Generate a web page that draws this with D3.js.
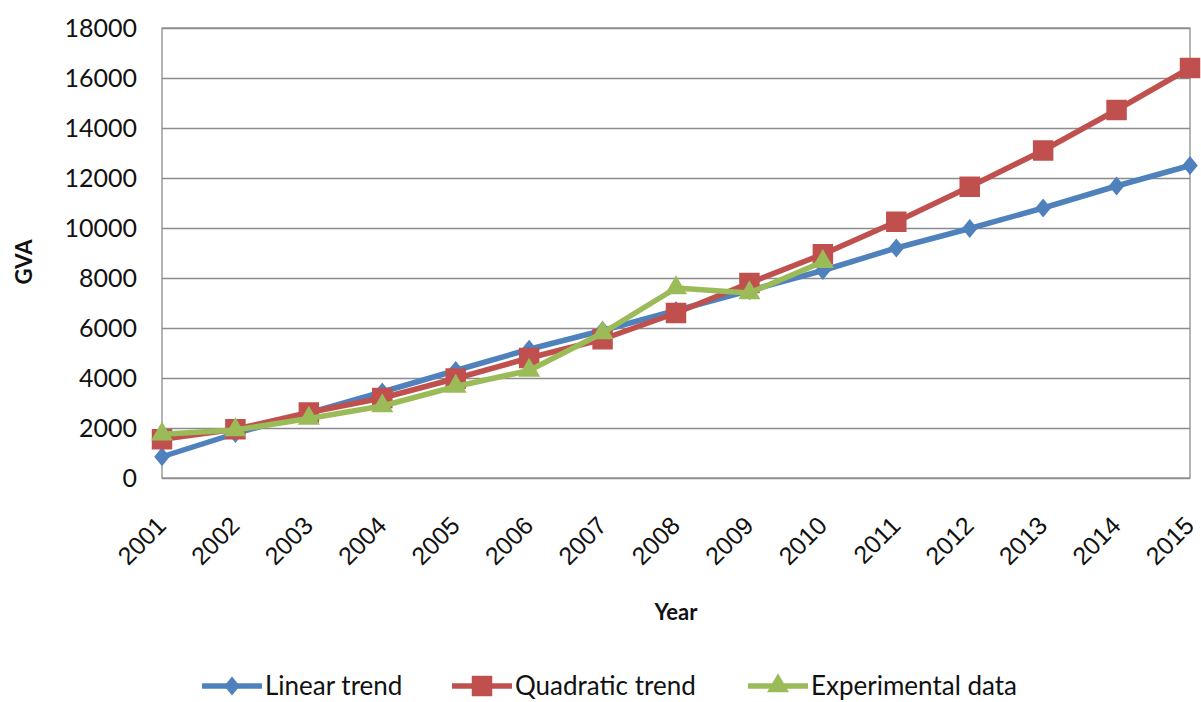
<!DOCTYPE html>
<html>
<head>
<meta charset="utf-8">
<script src="https://cdn.jsdelivr.net/npm/d3@7"></script>
<style>
  body { margin: 0; background: #fff; }
  svg { display: block; font-family: Lato, "Open Sans", sans-serif; }
</style>
</head>
<body>
<svg id="chart"></svg>
<script>
// data
const years = ["2001","2002","2003","2004","2005","2006","2007","2008","2009","2010","2011","2012","2013","2014","2015"];
const linearTrend = [850, 1780, 2600, 3440, 4300, 5150, 5900, 6700, 7500, 8300, 9200, 9980, 10800, 11680, 12500];
const quadraticTrend = [1550, 1950, 2620, 3200, 3980, 4800, 5550, 6600, 7800, 8950, 10250, 11650, 13100, 14720, 16400];
const experimentalData = [1750, 1920, 2380, 2880, 3660, 4300, 5800, 7600, 7400, 8650];
const yTicks = [0, 2000, 4000, 6000, 8000, 10000, 12000, 14000, 16000, 18000];

const width = 1201, height = 702;
const marginLeft = 162, marginRight = 11, marginTop = 28, marginBottom = 224;

// excel-ish diamond, a bit wider than d3's
const diamond = {
  draw(ctx, size) {
    const h = Math.sqrt(size) * 0.55, w = h * 0.82;
    ctx.moveTo(0, -h); ctx.lineTo(w, 0); ctx.lineTo(0, h); ctx.lineTo(-w, 0); ctx.closePath();
  }
};

const series = [
  { name: "Linear trend", values: linearTrend, color: "#4F81BD", symbol: diamond, size: 300 },
  { name: "Quadratic trend", values: quadraticTrend, color: "#C0504D", symbol: d3.symbolSquare, size: 420 },
  { name: "Experimental data", values: experimentalData, color: "#9BBB59", symbol: d3.symbolTriangle, size: 210 }
];

const svg = d3.select("#chart")
  .attr("width", width)
  .attr("height", height)
  .attr("viewBox", [0, 0, width, height]);

const xScale = d3.scalePoint().domain(years).range([marginLeft, width - marginRight]);
const yScale = d3.scaleLinear().domain([0, 18000]).range([height - marginBottom, marginTop]);

//gridlines + y labels
svg.append("g")
  .attr("transform", `translate(${marginLeft},0)`)
  .call(d3.axisLeft(yScale).tickValues(yTicks).tickFormat(d3.format("d")).tickSize(0).tickPadding(25))
  .call(g => g.select(".domain").remove())
  .call(g => g.selectAll(".tick text").attr("font-size", 25).attr("fill", "#111").attr("font-family", "Lato"))
  .call(g => g.selectAll(".tick line").clone()
      .attr("stroke", "#8c8c8c")
      .attr("stroke-width", 1.3)
      .attr("x2", width - marginLeft - marginRight));

// plot border
svg.append("rect")
  .attr("x", marginLeft)
  .attr("y", marginTop)
  .attr("width", width - marginLeft - marginRight)
  .attr("height", height - marginTop - marginBottom)
  .attr("fill", "none")
  .attr("stroke", "#8c8c8c")
  .attr("stroke-width", 1.3);

// x labels
svg.append("g")
  .attr("transform", `translate(0,${height - marginBottom})`)
  .call(d3.axisBottom(xScale).tickSize(0).tickPadding(0))
  .call(g => g.select(".domain").remove())
  .call(g => g.selectAll(".tick text")
      .attr("font-size", 25)
      .attr("fill", "#111")
      .attr("text-anchor", "end")
      .attr("y", 0)
      .attr("dy", "0.35em")
      .attr("transform", "translate(-1,43) rotate(-45)"));

// axis titles
svg.append("text")
  .attr("transform", `translate(32,262) rotate(-90)`)
  .attr("text-anchor", "middle")
  .attr("font-size", 22)
  .attr("font-weight", "bold")
  .attr("fill", "#111")
  .text("GVA");

svg.append("text")
  .attr("x", (marginLeft + width - marginRight) / 2)
  .attr("y", 620)
  .attr("text-anchor", "middle")
  .attr("font-size", 22)
  .attr("font-weight", "bold")
  .attr("fill", "#111")
  .text("Year");

const line = d3.line().x((d, i) => xScale(years[i])).y(d => yScale(d));

series.forEach(s => {
  const g = svg.append("g");
  g.append("path")
    .attr("d", line(s.values))
    .attr("fill", "none")
    .attr("stroke", s.color)
    .attr("stroke-width", 5.5)
    .attr("stroke-linejoin", "round");
  g.selectAll("path.m")
    .data(s.values)
    .join("path")
    .attr("class", "m")
    .attr("transform", (d, i) => `translate(${xScale(years[i])},${yScale(d)})`)
    .attr("d", d3.symbol(s.symbol, s.size))
    .attr("fill", s.color);
});

// legend
const legendX = [202, 452, 748];
const legend = svg.append("g").selectAll("g")
  .data(series)
  .join("g")
  .attr("transform", (d, i) => `translate(${legendX[i]},686)`);
legend.append("line")
  .attr("x1", 0).attr("x2", 60)
  .attr("stroke", d => d.color)
  .attr("stroke-width", 5.5);
legend.append("path")
  .attr("transform", "translate(30,0)")
  .attr("d", d => d3.symbol(d.symbol, d.size)())
  .attr("fill", d => d.color);
legend.append("text")
  .attr("x", 63)
  .attr("dy", "0.35em")
  .attr("font-size", 26)
  .attr("fill", "#111")
  .text(d => d.name);
</script>
</body>
</html>
